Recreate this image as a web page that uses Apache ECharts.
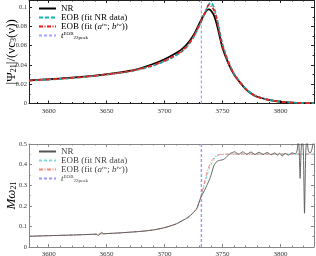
<!DOCTYPE html>
<html><head><meta charset="utf-8">
<script src="https://cdn.jsdelivr.net/npm/echarts@6/dist/echarts.min.js"></script>
<style>html,body{margin:0;padding:0;background:#fff}#c{width:316px;height:256px}</style>
</head><body><div id="c"></div>
<script>
// ---------- data ----------
const xTicks = [3600, 3650, 3700, 3750, 3800];
const ampTicks = [0, 0.02, 0.04, 0.06, 0.08, 0.1];
const freqTicks = [0, 0.1, 0.2, 0.3, 0.4, 0.5];
const tPeak = 3731.8;

const ampT = [3583,3600,3620,3640,3660,3675,3690,3700,3710,3715,3720,3725,3730,3733,3736,3738,3740,3743,3746,3750,3755,3760,3765,3770,3775,3780,3790,3800,3810,3820,3829];
const ampNR = [0.0240,0.0252,0.0268,0.0290,0.0320,0.0352,0.0410,0.0460,0.0525,0.0565,0.0625,0.0710,0.0830,0.0900,0.0960,0.0978,0.0966,0.0905,0.0780,0.0580,0.0420,0.0300,0.0220,0.0150,0.0102,0.0070,0.0038,0.0018,0.0009,0.0005,0.0003];
const ampEobNR = [0.0238,0.0249,0.0264,0.0286,0.0315,0.0345,0.0392,0.0438,0.0500,0.0540,0.0600,0.0690,0.0810,0.0890,0.0975,0.1025,0.1045,0.0985,0.0840,0.0620,0.0440,0.0312,0.0228,0.0156,0.0106,0.0073,0.0038,0.0019,0.0010,0.0005,0.0003];
const ampEobTW = [0.0239,0.0250,0.0266,0.0288,0.0317,0.0348,0.0398,0.0445,0.0508,0.0548,0.0608,0.0695,0.0815,0.0890,0.0965,0.1022,0.1015,0.0960,0.0815,0.0600,0.0430,0.0305,0.0222,0.0152,0.0103,0.0071,0.0037,0.0018,0.0009,0.0005,0.0003];

const freqNRT = [3583,3600,3620,3638,3641,3643,3645.5,3647.5,3650,3660,3680,3690,3700,3710,3716,3720,3725,3728,3731,3734.5,3737,3739.7,3742.6,3745.5,3748,3751,3754,3757,3760.5,3764,3767.5,3771,3774.5,3778,3781.5,3785,3788.5,3792,3795,3797.5,3799.5,3801.5,3804,3807,3810,3813,3814.5,3815.5,3816.3,3817,3817.8,3818.8,3819.8,3820.8,3821.8,3822.8,3824,3825.5,3827,3829];
const freqNR = [0.052,0.055,0.058,0.0615,0.062,0.056,0.071,0.064,0.065,0.068,0.076,0.0825,0.094,0.112,0.130,0.143,0.167,0.188,0.236,0.275,0.305,0.341,0.395,0.417,0.421,0.425,0.440,0.455,0.462,0.450,0.462,0.450,0.461,0.449,0.460,0.449,0.459,0.448,0.457,0.446,0.456,0.441,0.455,0.446,0.457,0.452,0.470,0.530,0.460,0.333,0.460,0.530,0.470,0.164,0.450,0.530,0.470,0.455,0.470,0.530];
const freqEobT = [3583,3600,3620,3640,3660,3680,3690,3700,3710,3716,3720,3725,3728,3731,3733.9,3736.8,3739.7,3742.6,3745.5,3750,3754,3829];
const freqEobNR = [0.052,0.055,0.058,0.0625,0.068,0.0765,0.0825,0.094,0.112,0.130,0.143,0.167,0.190,0.236,0.290,0.350,0.395,0.425,0.442,0.449,0.451,0.451];
const freqEobTW = [0.052,0.055,0.058,0.0625,0.068,0.0765,0.0825,0.094,0.112,0.130,0.143,0.168,0.192,0.238,0.300,0.365,0.408,0.433,0.446,0.450,0.451,0.451];

// ---------- build ----------
const SERIF = 'Liberation Serif';
const zip = (a, b) => a.map((v, i) => [v, b[i]]);
const fmtNum = v => String(parseFloat((+v).toFixed(4)));

function xAxes(gi, color) {
  return [{
    type: 'value', gridIndex: gi, min: 3583, max: 3829, splitNumber: 5,
    axisLine: { lineStyle: { color: color, width: 1 } },
    axisTick: { inside: true, length: 3, lineStyle: { color: color } },
    minorTick: { show: true, splitNumber: 5, length: 1.5, lineStyle: { color: color } },
    splitLine: { show: false },
    axisLabel: { showMinLabel: false, showMaxLabel: false, margin: 4, fontFamily: SERIF, fontSize: 7, color: '#333',
      formatter: v => xTicks.includes(Math.round(v)) && Math.abs(v - Math.round(v)) < 1e-6 ? String(Math.round(v)) : '' }
  }, {
    type: 'value', gridIndex: gi, position: 'top', min: 3583, max: 3829, splitNumber: 5,
    axisLine: { onZero: false, lineStyle: { color: color, width: 1 } },
    axisTick: { inside: true, length: 3, lineStyle: { color: color } },
    minorTick: { show: true, splitNumber: 5, length: 1.5, lineStyle: { color: color } },
    splitLine: { show: false }, axisLabel: { show: false }
  }];
}
function yAxes(gi, max, interval, ticks, color, name, rich, showMax) {
  return [{
    type: 'value', gridIndex: gi, min: 0, max: max, interval: interval,
    name: name, nameLocation: 'middle', nameGap: 11, nameRotate: 90, nameMoveOverlap: false,
    nameTextStyle: { fontFamily: SERIF, fontSize: 13, color: '#000', rich: rich },
    axisLine: { lineStyle: { color: color, width: 1 } },
    axisTick: { inside: true, length: 3, lineStyle: { color: color } },
    minorTick: { show: true, splitNumber: 2, length: 1.5, lineStyle: { color: color } },
    splitLine: { show: false },
    axisLabel: { showMaxLabel: showMax, margin: 2, fontFamily: SERIF, fontSize: 6.5, color: '#333',
      formatter: v => ticks.some(t => Math.abs(t - v) < 1e-9) ? fmtNum(v) : '' }
  }, {
    type: 'value', gridIndex: gi, position: 'right', min: 0, max: max, interval: interval,
    axisLine: { onZero: false, lineStyle: { color: color, width: 1 } },
    axisTick: { inside: true, length: 3, lineStyle: { color: color } },
    minorTick: { show: true, splitNumber: 2, length: 1.5, lineStyle: { color: color } },
    splitLine: { show: false }, axisLabel: { show: false }
  }];
}

const legendRich = {
  i: { fontFamily: SERIF, fontSize: 9, fontStyle: 'italic' },
  sup: { fontFamily: SERIF, fontSize: 5, verticalAlign: 'top' },
  sub: { fontFamily: SERIF, fontSize: 5, verticalAlign: 'bottom' }
};
const legendText = {
  NR: 'NR',
  EOBNR: 'EOB (fit NR data)',
  EOBTW: 'EOB (fit ({i|a}{sup|fw}; {i|b}{sup|fw}))',
  TP: '{i|t}{sup|EOB}{sub|22peak}'
};
function legendFmt(name) { return legendText[name.split('-')[1]]; }

const yRich = {
  s: { fontFamily: SERIF, fontSize: 8, verticalAlign: 'bottom' },
  i: { fontFamily: SERIF, fontSize: 13, fontStyle: 'italic' }
};

function line(name, xi, yi, data, color, width, type, smooth) {
  return { name: name, type: 'line', xAxisIndex: xi, yAxisIndex: yi, data: data,
    showSymbol: false, symbol: 'none', smooth: smooth, clip: true, animation: false,
    lineStyle: { color: color, width: width, type: type }, itemStyle: { color: color } };
}

const option = {
  animation: false,
  grid: [
    { left: 29, right: 2, top: 0, height: 103.5, outerBoundsMode: 'none', containLabel: false },
    { left: 29, right: 2, top: 144, height: 103, outerBoundsMode: 'none', containLabel: false }
  ],
  xAxis: [...xAxes(0, '#222'), ...xAxes(1, '#888')],
  yAxis: [
    ...yAxes(0, 0.1075, 0.02, ampTicks, '#222', '|Ψ{s|21}|/(νc{s|3}(ν))', yRich, false),
    ...yAxes(1, 0.5, 0.1, freqTicks, '#888', '{i|Mω}{s|21}', yRich, true)
  ],
  legend: [
    { data: ['a-NR', 'a-EOBNR', 'a-EOBTW', 'a-TP'], orient: 'vertical', left: 33, top: -1,
      itemWidth: 17, itemHeight: 8, itemGap: 0, formatter: legendFmt,
      itemStyle: { opacity: 0 },
      textStyle: { fontFamily: SERIF, fontSize: 9, color: '#000', rich: legendRich } },
    { data: ['b-NR', 'b-EOBNR', 'b-EOBTW', 'b-TP'], orient: 'vertical', left: 33, top: 142,
      itemWidth: 17, itemHeight: 8, itemGap: 0, formatter: legendFmt,
      itemStyle: { opacity: 0 },
      textStyle: { fontFamily: SERIF, fontSize: 9, color: '#444', rich: legendRich } }
  ],
  series: [
    line('a-TP', 0, 0, [[tPeak, 0], [tPeak, 0.1075]], '#a3a3ff', 1.2, [3, 2], false),
    line('a-NR', 0, 0, zip(ampT, ampNR), '#000', 1.8, 'solid', 0.35),
    line('a-EOBNR', 0, 0, zip(ampT, ampEobNR), '#14b4b4', 1.8, [4, 2], 0.35),
    line('a-EOBTW', 0, 0, zip(ampT, ampEobTW), '#e8231c', 1.8, [4, 1.5, 1, 1.5], 0.35),
    line('b-TP', 2, 2, [[tPeak, 0], [tPeak, 0.5]], '#9898f8', 1.4, [3, 2], false),
    line('b-EOBNR', 2, 2, zip(freqEobT, freqEobNR), '#7edcdc', 1, [3, 2], 0.3),
    line('b-EOBTW', 2, 2, zip(freqEobT, freqEobTW), '#f08a84', 1, [4, 1.5, 1, 1.5], 0.3),
    line('b-NR', 2, 2, zip(freqNRT, freqNR), '#555', 0.9, 'solid', 0.2)
  ]
};
echarts.init(document.getElementById('c'), null, { renderer: 'canvas' }).setOption(option);
</script></body></html>
